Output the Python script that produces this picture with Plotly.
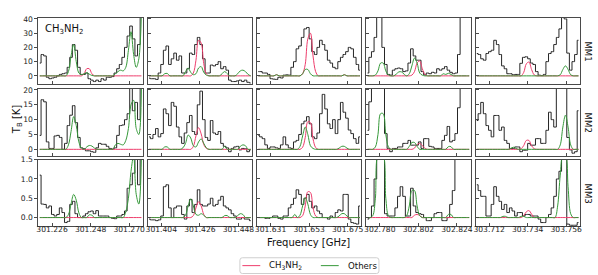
import numpy as np
import plotly.graph_objects as go

W, H = 598, 275

# ---------------- data ----------------
centers = [301.248, 301.426, 301.653, 302.802, 303.734]
xtick_labels = [["301.226", "301.248", "301.270"],
                ["301.404", "301.426", "301.448"],
                ["301.631", "301.653", "301.675"],
                ["302.780", "302.802", "302.824"],
                ["303.712", "303.734", "303.756"]]
n_chan = 40
chan_width = 0.0014875   # GHz
half_span = 0.02975      # GHz
tick_offset = 0.022      # GHz
sources = ["MM1", "MM2", "MM3"]
legend_names = ["CH<sub>3</sub>NH<sub>2</sub>", "Others"]
y_ranges = [[-5.8, 40.8], [-2.1, 20.4], [-0.23, 1.5]]
y_tickvals = [[0, 10, 20, 30, 40], [0, 5, 10, 15, 20], [0, 0.5, 1.0, 1.5]]
y_ticktext = [["0", "10", "20", "30", "40"], ["0", "5", "10", "15", "20"], ["0.0", "0.5", "1.0", "1.5"]]

obs_MM1 = [
    [9, 15, 14, -1, -2, -1.5, -1, 0, 1, 1.5, 2, 6, 13, 22, 18, 6, 1, 1, 2, -2,
     -3, -4, -3, -4, -2, -3, -1, -1, -0.5, 2, 5, 8, 13, 20, 28, 35, 26, 14, 22, 45],
    [-1.6, -2, -2, -2.5, 2, 8, 18, 21, 8, 12, 16, 11, 14, 2, 2, 5, 16, 15, 22, 27,
     22, 12, 2, 2, 7.6, 7, 8, 10, 5, 6.5, 4, -3, -4, -4, -3.5, -3, -4, -3, -4.5, -5],
    [3, 3, 2, 2, 1, -2, -2.3, -2.5, -1, -1.5, 0.5, 0.7, 0.5, 6, 10, 19, 21, 27, 33, 34,
     26, 17, 15, 20, 25, 22, 18, 11, 9, 6, 5, 10, 13, 15, 17, 20, 19, 13, 8, 4],
    [2, 13, 17, 27, 45, 45, 20, 8, 1, 0.5, 4, 5, 5.5, 5, 3, 3.5, 9, 19, 14, 11,
     11, 3, 0.7, 2, 1.5, 2.5, 2, 5, 4, 5, 6.5, 4, 2.5, 1.5, 2, 15, 45, 45, 45, 45],
    [15.7, 15, 12, 11, 15.7, 17, 18, 25, 22, 15, 7, 5, 1.5, 1.5, 0.8, 1, 1, 8.8, 13, 13.4,
     12, 9, 8, 3, 0.5, 0.2, 1, 10, 15.7, 17, 22, 27, 33, 45, 40, 16, 4, 10, 15, 25],
]
ch3nh2_MM1 = [
    [0, 0, 0, 0, 0, 0, 0, 0, 0, 0, 0, 0, 0, 0, 0, 0, 0, 1.5, 5, 5,
     1.5, 0, 0, 0, 0, 0, 0, 0, 0, 0, 0, 0, 0, 0, 0, 0, 0, 0, 0, 0],
    [0, 0, 0, 0, 0, 0, 0, 0, 0, 0, 0, 0, 0, 0, 0, 0, 0, 2, 11, 25,
     23, 8.6, 1.3, 0, 0, 0, 0, 0, 0, 0, 0, 0, 0, 0, 0, 0, 0, 0, 0, 0],
    [0, 0, 0, 0, 0, 0, 0, 0.8, 0, 0, 0, 0, 0, 0, 0, 0, 0, 1.5, 8, 26,
     30, 14, 3, 0, 0, 0, 0, 0, 0, 0, 0, 0, 0, 0.8, 0, 0, 0, 0, 0, 0],
    [0, 0, 0, 0, 0, 0, 0, 0, 0, 0, 0, 0, 0, 0, 0, 0, 0, 0.5, 3, 9,
     10.5, 5, 1, 0, 0, 0, 0, 0, 0, 0, 0, 0, 0, 0, 0, 0, 0, 0, 0, 0],
    [0, 0, 0, 0, 0, 0, 0, 0, 0, 0, 0, 0, 0, 0, 0, 0, 0, 0, 2.5, 8.5,
     9.7, 4.5, 0.7, 0, 0, 0, 0, 0, 0, 0, 0, 0, 0, 0, 0, 0, 0, 0, 0, 0],
]
others_MM1 = [
    [0, 0, 0, 0, 0, 0, 0, 0, 0, 0, 0, 3, 14, 22, 10, 2, 0.8, 1.5, 2.2, 1.2,
     0.3, 0, 0, 0, 0, 0, 0, 0, 0, 1.5, 3, 4, 3.5, 6, 18, 31, 15, 6, 12, 45],
    [0, 0, 0, 0, 0, 0, 1.5, 1.7, 0, 0, 0, 0, 0, 0, 3, 5.5, 2.5, 0.8, 1.5, 5.5,
     6.5, 2.5, 0.5, 0, 0, 0, 0, 0, 1.5, 3, 1.5, 0, 0, 0, 1.5, 3.5, 4, 3, 1, 0],
    [0, 0, 0, 0, 0, 0, 0, 0.8, 0, 0, 0, 0, 0, 0, 0, 0, 0, 1.5, 4.5, 4.5,
     1.5, 0, 0, 0, 0, 0, 0, 0, 0, 0, 0, 0, 0, 0.8, 0, 0, 0, 0, 0, 0],
    [0, 0, 0, 0.6, 3.5, 9, 9, 3.5, 0.6, 0, 0, 1.2, 2.8, 2.8, 1.2, 0, 1.5, 7, 12.5, 9,
     2, 0.5, 0, 0, 0, 0, 0, 0, 0, 1.5, 1, 1.8, 1, 0, 0, 0, 0, 0, 0, 0],
    [0, 0, 0, 0, 0, 0, 0, 0, 0, 0, 0, 0, 0, 0, 0, 0, 0, 0, 0, 0,
     0, 0, 0, 0, 0, 0, 0, 0, 0, 0, 0, 0, 0.8, 4.5, 7, 4.5, 0.8, 0, 0, 0],
]

obs_MM2 = [
    [4.7, 16.7, 16, 2.5, 0.3, 0.3, 4.5, 4.7, 4, 0, 2, 8, 11.5, 14.7, 9, 4, 0.5, 0.2, -0.5, -0.5,
     -0.8, -1, 0.5, 2, 1.7, 1.7, 1, 0.3, 0.1, 0.5, 4.7, 8, 8.2, 10, 12, 21, 13, 15.8, 10, 21],
    [4.2, 3.6, 5, 7, 4.2, 5.3, 13.6, 12, 8, 15.8, 14.5, 7.5, 4.2, 2, 5.5, 9, 11.4, 6, 5, 15,
     19.6, 10, 4, 3, 9.7, 5.5, 5, 6, 2, 1, 0.5, -0.8, 0.3, 0.8, 1, -0.2, 0.3, 0.2, -0.8, -0.2],
    [4.7, 4.2, 3.6, 1.5, 0.3, 0.8, 0.8, 0.5, 0.3, 1.5, 4.2, 1.5, 0.5, 0.3, 2.5, 3, 5, 8.6, 9.5, 11,
     8.6, 4.2, 3.6, 5.5, 12, 18.5, 13.6, 8.6, 7, 10, 5.3, 10, 15.8, 12.5, 10.5, 6.5, 5.3, 3.6, 2, 4.2],
    [6.4, 16, 21, 21, 21, 21, 21, 5.3, 0.3, -0.8, 0.3, 0.3, 0.8, 0.8, 2, 2, 3, 1.4, 1.4, 1.4,
     2.5, 0.3, 3.6, 3.6, 1, 0.8, 0.3, 0.3, 0.3, 3, 4.7, 7.7, 2.5, 3, 5.3, 14, 21, 21, 21, 21],
    [9.7, 12, 15.8, 12, 8, 6.4, 4.2, 11.4, 11.4, 6.4, 7.5, 3, 2, 0.3, 0.3, 0.8, 0.8, -0.8, -0.3, -0.3,
     2, 1.4, 1.4, 3.6, 3.6, 2, 2, 6.4, 12.5, 10, 7.5, 21, 21, 21, 21, 4, -0.2, -1.3, -0.8, 13],
]
ch3nh2_MM2 = [
    [0] * 40,
    [0, 0, 0, 0, 0, 0, 0, 0, 0, 0, 0, 0, 0, 0, 0, 0, 0, 1, 4.5, 7.3,
     5.2, 1.6, 0.3, 0, 0, 0, 0, 0, 0, 0, 0, 0, 0, 0, 0, 0, 0, 0, 0, 0],
    [0, 0, 0, 0, 0, 0, 0, 0, 0, 0, 0, 0, 0, 0, 0, 0, 0, 0.7, 4, 9.3,
     9, 3.5, 0.6, 0, 0, 0, 0, 0, 0, 0, 0, 0, 0, 0, 0, 0, 0, 0, 0, 0],
    [0, 0, 0, 0, 0, 0, 0, 0, 0, 0, 0, 0, 0, 0, 0, 0, 0, 0, 0.4, 1.6,
     2, 1.3, 0.3, 0, 0, 0, 0, 0, 0, 0, 0, 0, 0, 0, 0, 0, 0, 0, 0, 0],
    [0, 0, 0, 0, 0, 0, 0, 0, 0, 0, 0, 0, 0, 0, 0, 0, 0, 0.2, 1.3, 3,
     3, 1.2, 0.2, 0, 0, 0, 0, 0, 0, 0, 0, 0, 0, 0, 0, 0, 0, 0, 0, 0],
]
others_MM2 = [
    [0, 0, 0, 0, 0, 0, 0, 0, 0, 0, 0, 1.5, 6, 11, 8, 2.5, 0.4, 0, 0.8, 1.3,
     1.1, 0.4, 0, 0, 0, 0, 0, 0, 0, 1.5, 2, 1.7, 1.5, 3, 7, 15, 16.5, 7, 5, 21],
    [0, 0, 0, 0, 0, 0, 0.8, 0.8, 0, 0, 0, 0, 0, 0.5, 2, 4.8, 3.8, 1.2, 0.8, 2.5,
     3.5, 2, 0.5, 0, 0, 0, 0, 0, 0, 1, 0, 0, 0, 0, 0, 1, 1.5, 1.2, 0, 0],
    [0, 0, 0, 0, 0, 0, 0, 0, 0, 0, 0, 0, 0, 0, 0, 0, 1, 4.5, 7.5, 5,
     1.2, 0.3, 0, 0, 0, 0, 0, 0, 0, 0, 0, 0.4, 1, 1, 0.4, 0, 0, 0, 0, 0],
    [0, 0, 0, 0.8, 5, 12, 12, 5, 0.8, 0, 0, 0, 0, 0, 0, 0, 1, 2.3, 2.3, 1,
     0, 0, 0, 0, 0, 0, 0, 0, 0, 0, 0, 0.9, 0.9, 0, 0, 0, 0, 0, 0, 0],
    [0, 0, 0, 0, 0, 0, 0, 0, 0, 0, 0, 0, 0, 0.3, 0.7, 0.3, 0, 0, 0, 0,
     0, 0, 0, 0, 0, 0, 0, 0, 0, 0, 0, 0, 1.5, 7.5, 11.5, 7.5, 1.5, 0, 0, 0],
]

obs_MM3 = [
    [1.1, 0.35, 0.34, 0.25, 0.3, 0.08, 0.04, 0.08, 0.25, 0.13, -0.13, -0.1, 0.34, 0.42, 0.1, 0, 0, 0.04, 0.1, 0.15,
     0.17, 0.1, 0.18, 0.04, 0.04, 0.04, 0.04, 0, -0.02, -0.03, 0.04, 0.04, 0.08, 0.17, 0.76, 0.85, 1.15, 1.55, 0.85, 1.55],
    [-0.04, -0.06, -0.06, -0.08, -0.06, 0.04, 0.8, 0.85, 0.25, 0, 0.25, 0.3, 0.3, 0.08, -0.04, 0.3, 0.47, 0.13, 0.34, 0.72,
     0.34, 0.3, 0.3, 0.35, 0.5, 0.3, 0.34, 0.45, 0.55, 0.3, 0.25, 0.2, 0.1, 0.04, -0.04, -0.04, 0, -0.04, -0.04, -0.08],
    [0, 0, 0, -0.02, -0.02, 0, 0.04, 0.04, -0.02, -0.04, 0.04, 0.04, 0.25, 0.34, 0.5, 0.72, 0.6, 0.34, 0.5, 0.6,
     0.42, 0.25, 0.3, 0.17, 0.1, 0, 0, -0.04, 0.04, 0, 0.13, 0.2, 0.17, 0.6, 0.6, -0.04, -0.13, -0.15, -0.17, 0.3],
    [-0.04, 0, 0.3, 1.0, 1.6, 1.6, 1.6, 0.1, 0.04, 0.04, 0.04, 0.25, 0.55, 0.8, 0.55, 0.04, 0.04, 0.76, 0.3, 0.13,
     0.1, 0.08, 0, -0.08, -0.08, 0, 0.1, 0.13, 0.13, -0.08, -0.08, 0, 0.34, 0.7, 1.6, 1.6, 1.6, 1.6, 1.6, 1.6],
    [0.85, 0.7, 0.55, 0.55, 0.04, 0.04, 0.34, 0.8, 0.55, 0.42, 0.21, 0.34, 0.13, 0.25, 0.17, 0.04, 0.13, 0.13, 0.04, 0.08,
     0.08, 0.04, 0.04, 0.04, -0.04, -0.13, -0.13, 0, 0.08, 0.25, 0.55, 1.0, 1.2, 1.6, 1.6, -0.17, -0.2, -0.2, -0.2, -0.13],
]
ch3nh2_MM3 = [
    [0] * 40,
    [0, 0, 0, 0, 0, 0, 0, 0, 0, 0, 0, 0, 0, 0, 0, 0, 0, 0.05, 0.25, 0.41,
     0.3, 0.08, 0, 0, 0, 0, 0, 0, 0, 0, 0, 0, 0, 0, 0, 0, 0, 0, 0, 0],
    [0, 0, 0, 0, 0, 0, 0, 0, 0, 0, 0, 0, 0, 0, 0, 0, 0, 0.05, 0.3, 0.67,
     0.65, 0.25, 0.04, 0, 0, 0, 0, 0, 0, 0, 0, 0, 0, 0, 0, 0, 0, 0, 0, 0],
    [0, 0, 0, 0, 0, 0, 0, 0, 0, 0, 0, 0, 0, 0, 0, 0, 0, 0, 0.06, 0.08,
     0.05, 0, 0, 0, 0, 0, 0, 0, 0, 0, 0, 0, 0, 0, 0, 0, 0, 0, 0, 0],
    [0, 0, 0, 0, 0, 0, 0, 0, 0, 0, 0, 0, 0, 0, 0, 0, 0, 0, 0.05, 0.15,
     0.18, 0.09, 0, 0, 0, 0, 0, 0, 0, 0, 0, 0, 0, 0, 0, 0, 0, 0, 0, 0],
]
others_MM3 = [
    [0, 0, 0, 0, 0, 0, 0, 0, 0, 0, 0, 0.08, 0.35, 0.6, 0.45, 0.12, 0, 0, 0, 0.07,
     0.06, 0, 0, 0, 0, 0, 0, 0, 0, 0, 0, 0, 0, 0.15, 0.5, 1.2, 1.6, 0.6, 0.35, 1.6],
    [0, 0, 0, 0, 0, 0, 0, 0, 0, 0, 0, 0, 0, 0, 0.06, 0.3, 0.48, 0.3, 0.08, 0.06,
     0.1, 0.06, 0, 0, 0, 0, 0, 0, 0, 0.05, 0.05, 0, 0, 0, 0.05, 0.1, 0.08, 0, 0, 0],
    [0, 0, 0, 0, 0, 0, 0, 0, 0, 0, 0, 0, 0, 0, 0.08, 0, 0.06, 0.3, 0.52, 0.35,
     0.08, 0, 0, 0, 0, 0, 0, 0, 0, 0, 0, 0.04, 0.1, 0.1, 0.04, 0, 0, 0, 0, 0],
    [0, 0, 0.05, 0.5, 1.6, 1.6, 1.6, 0.5, 0.05, 0, 0, 0, 0, 0, 0, 0.05, 0.3, 0.7, 0.7, 0.3,
     0.05, 0, 0, 0, 0, 0, 0, 0, 0, 0, 0, 0.08, 0.08, 0, 0, 0, 0, 0, 0, 0],
    [0, 0, 0, 0, 0, 0, 0, 0, 0, 0, 0.03, 0.03, 0, 0, 0, 0, 0, 0.03, 0.03, 0,
     0, 0, 0, 0, 0, 0, 0, 0, 0, 0, 0, 0.3, 1.1, 1.6, 1.6, 0.8, 0.1, 0, 0, 0],
]

obs_rows = [obs_MM1, obs_MM2, obs_MM3]
red_rows = [ch3nh2_MM1, ch3nh2_MM2, ch3nh2_MM3]
green_rows = [others_MM1, others_MM2, others_MM3]

# ---------------- layout geometry (pixels) ----------------
col_left = [36.7, 146.7, 256.7, 366.7, 476.7]
panel_w = 105.0
row_tb = [(14.0, 81.3), (86.0, 153.8), (158.0, 225.7)]

BLACK = "#262626"
RED = "#ee3d6c"
GREEN = "#36993a"
AXC = "#4a4a4a"
FONT = "DejaVu Sans"


def px(xp):
    return xp / W


def py(yp):
    return 1 - yp / H


fig = go.Figure()
layout = {}
for r in range(3):
    for c in range(5):
        p = r * 5 + c
        sfx = "" if p == 0 else str(p + 1)
        xa, ya = "x" + sfx, "y" + sfx
        freq = centers[c] + (np.arange(n_chan) - (n_chan - 1) / 2.0) * chan_width

        fig.add_trace(go.Scatter(x=freq, y=obs_rows[r][c], mode="lines",
                                 line=dict(color=BLACK, width=1, shape="hvh"),
                                 xaxis=xa, yaxis=ya, showlegend=False, hoverinfo="skip"))
        fig.add_trace(go.Scatter(x=freq, y=red_rows[r][c], mode="lines",
                                 line=dict(color=RED, width=1, shape="spline", smoothing=1.0),
                                 xaxis=xa, yaxis=ya, name=legend_names[0],
                                 showlegend=False, hoverinfo="skip"))
        fig.add_trace(go.Scatter(x=freq, y=green_rows[r][c], mode="lines",
                                 line=dict(color=GREEN, width=1, shape="spline", smoothing=1.0),
                                 xaxis=xa, yaxis=ya, name=legend_names[1],
                                 showlegend=False, hoverinfo="skip"))

        top, bot = row_tb[r]
        ctr = centers[c]
        layout["xaxis" + sfx] = dict(
            domain=[px(col_left[c]), px(col_left[c] + panel_w)], anchor=ya,
            range=[ctr - half_span, ctr + half_span],
            showline=True, mirror=True, linecolor=AXC, linewidth=1,
            showgrid=False, zeroline=False,
            tickvals=[ctr - tick_offset, ctr, ctr + tick_offset],
            ticktext=xtick_labels[c], showticklabels=(r == 2),
            ticks="inside", ticklen=3, tickcolor=AXC, tickwidth=1,
            ticklabelstandoff=-5,
            tickfont=dict(family=FONT, size=7.6, color="#222"),
        )
        layout["yaxis" + sfx] = dict(
            domain=[py(bot), py(top)], anchor=xa, range=y_ranges[r],
            showline=True, mirror=True, linecolor=AXC, linewidth=1,
            showgrid=False, zeroline=False,
            tickvals=y_tickvals[r], ticktext=y_ticktext[r], showticklabels=(c == 0),
            ticks="outside" if c == 0 else "inside", ticklen=3, tickcolor=AXC, tickwidth=1,
            tickfont=dict(family=FONT, size=7.6, color="#222"),
        )

annotations = [
    dict(text="CH<sub>3</sub>NH<sub>2</sub>", x=px(41), y=py(26), xref="paper", yref="paper",
         xanchor="left", yanchor="middle", showarrow=False,
         font=dict(family=FONT, size=10, color="#111")),
    dict(text="T<sub>B</sub> [K]", x=px(15), y=py(117), xref="paper", yref="paper",
         xanchor="center", yanchor="middle", textangle=-90, showarrow=False,
         font=dict(family=FONT, size=10, color="#111")),
    dict(text="Frequency [GHz]", x=px(309), y=py(242), xref="paper", yref="paper",
         xanchor="center", yanchor="middle", showarrow=False,
         font=dict(family=FONT, size=10, color="#111")),
]
for r in range(3):
    top, bot = row_tb[r]
    annotations.append(dict(text=sources[r], x=px(589.5), y=py((top + bot) / 2),
                            xref="paper", yref="paper", xanchor="center", yanchor="middle",
                            textangle=90, showarrow=False,
                            font=dict(family=FONT, size=8.6, color="#111")))

# ---- legend drawn in the matplotlib style (rounded frame, short line samples) ----
lx0, lx1, ly0, ly1, rad = 239.5, 379.5, 257.5, 273.5, 2.5
legend_path = (
    f"M {px(lx0 + rad)},{py(ly0)} L {px(lx1 - rad)},{py(ly0)} "
    f"Q {px(lx1)},{py(ly0)} {px(lx1)},{py(ly0 + rad)} L {px(lx1)},{py(ly1 - rad)} "
    f"Q {px(lx1)},{py(ly1)} {px(lx1 - rad)},{py(ly1)} L {px(lx0 + rad)},{py(ly1)} "
    f"Q {px(lx0)},{py(ly1)} {px(lx0)},{py(ly1 - rad)} L {px(lx0)},{py(ly0 + rad)} "
    f"Q {px(lx0)},{py(ly0)} {px(lx0 + rad)},{py(ly0)} Z"
)
shapes = [dict(type="path", path=legend_path, xref="paper", yref="paper",
               line=dict(color="#cfcfcf", width=1), fillcolor="white", layer="above")]
ymid = (ly0 + ly1) / 2
legend_items = [(242, 260, 267, RED, legend_names[0]), (321, 339, 346, GREEN, legend_names[1])]
for (a, b, tx, col, label) in legend_items:
    shapes.append(dict(type="line", xref="paper", yref="paper", x0=px(a), x1=px(b),
                       y0=py(ymid), y1=py(ymid), line=dict(color=col, width=1), layer="above"))
    annotations.append(dict(text=label, x=px(tx), y=py(ymid), xref="paper", yref="paper",
                            xanchor="left", yanchor="middle", showarrow=False,
                            font=dict(family=FONT, size=8.6, color="#111")))

fig.update_layout(
    width=W, height=H, margin=dict(l=0, r=0, t=0, b=0),
    paper_bgcolor="white", plot_bgcolor="white",
    font=dict(family=FONT, size=8.6, color="#111"),
    annotations=annotations, shapes=shapes,
    showlegend=False, hovermode=False,
    **layout,
)

fig.write_html("out.html", config={"displayModeBar": False, "staticPlot": True},
               post_script="document.body.style.margin='0px';")
